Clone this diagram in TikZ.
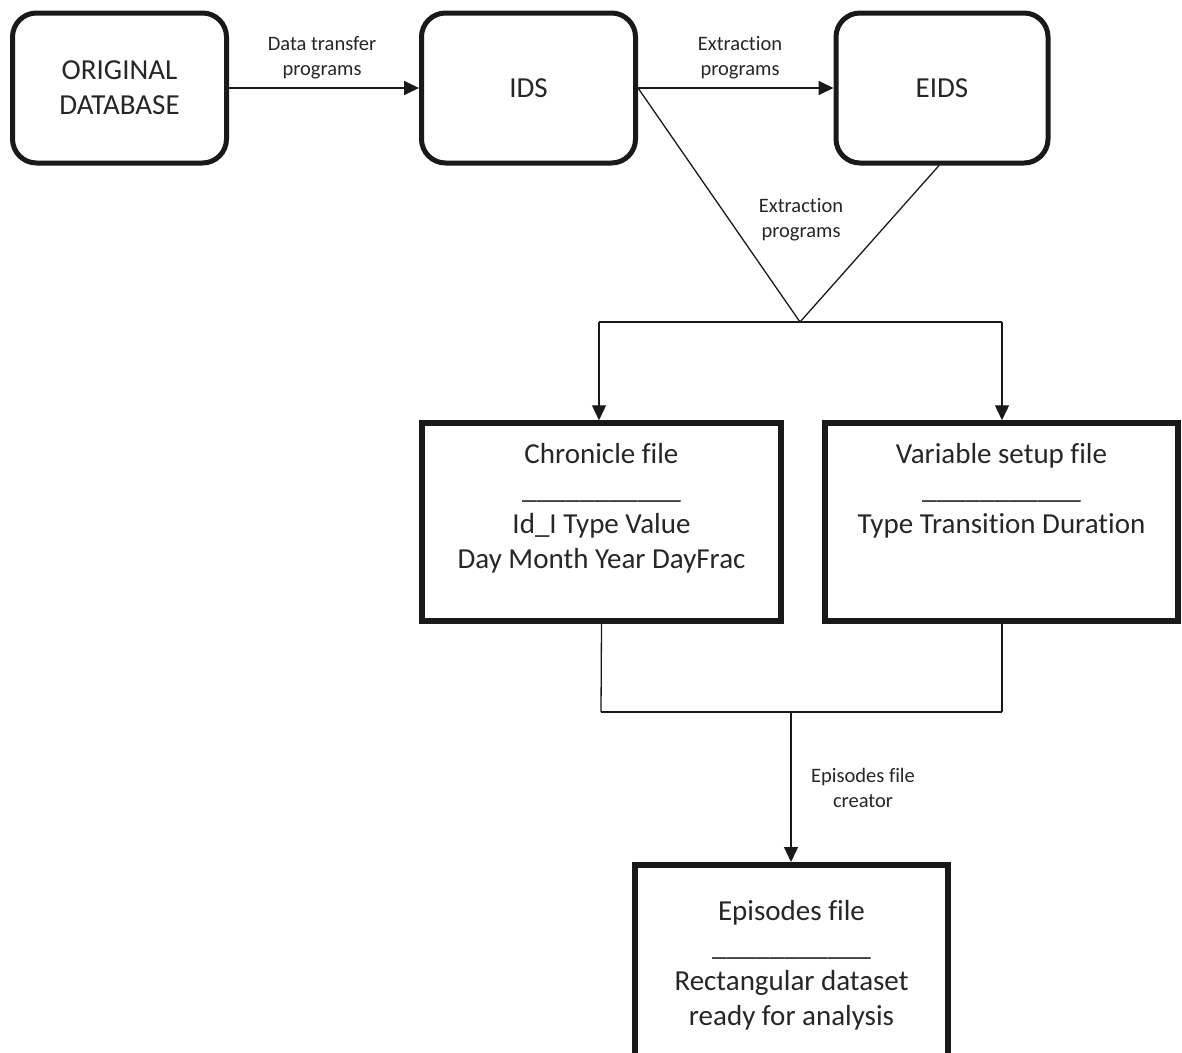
\documentclass[tikz,border=0pt]{standalone}
\usepackage{fontspec}
\setmainfont{Carlito}[Ligatures=NoCommon]
\usetikzlibrary{arrows.meta}
\begin{document}
\begin{tikzpicture}[x=1pt,y=-1pt,
  roundbox/.style={draw=black!90, line width=5pt, rounded corners=24pt, inner sep=0pt},
  filebox/.style={draw=black!90, line width=5.5pt, inner sep=0pt},
  bigtxt/.style={font=\fontsize{29}{35}\selectfont, text=black!85, align=center, inner sep=0pt},
  smalltxt/.style={font=\fontsize{20.5}{25}\selectfont, text=black!85, align=center, inner sep=0pt},
  conn/.style={draw=black!90, line width=1.8pt},
  thin/.style={draw=black!90, line width=1.3pt},
  arr/.style={-{Triangle[length=15pt,width=14pt]}}
]
\useasboundingbox (0,0) rectangle (1182,1052);
\clip (0,0) rectangle (1182,1052);
% boxes
\node[roundbox, minimum width=214pt, minimum height=150pt] (orig) at (119.5,88) {};
\node[roundbox, minimum width=214pt, minimum height=150pt] (ids) at (528.5,88) {};
\node[roundbox, minimum width=212pt, minimum height=150pt] (eids) at (942,88) {};
\node[filebox, minimum width=359pt, minimum height=198pt] (chron) at (601.5,522) {};
\node[filebox, minimum width=353pt, minimum height=198pt] (var) at (1001.5,522) {};
\node[filebox, minimum width=313pt, minimum height=300pt, anchor=north] (epi) at (791.5,862) {};
% box texts
\node[bigtxt] (origt) at (orig.center) {ORIGINAL\\DATABASE};
\node[bigtxt] (idst) at (ids.center) {IDS};
\node[bigtxt] (eidst) at (eids.center) {EIDS};
\node[bigtxt, anchor=north] (chront) at (601.5,443) {Chronicle file\\\_\_\_\_\_\_\_\_\_\_\_\\Id\_I Type Value\\Day Month Year DayFrac};
\node[bigtxt, anchor=north] (vart) at (1001.5,443) {Variable setup file\\\_\_\_\_\_\_\_\_\_\_\_\\Type Transition Duration};
\node[bigtxt, anchor=north] (epit) at (791.5,900) {Episodes file\\\_\_\_\_\_\_\_\_\_\_\_\\Rectangular dataset\\ready for analysis};
% connectors
\draw[conn, arr] (orig.east) -- (ids.west);
\draw[conn, arr] (ids.east) -- (eids.west);
\coordinate (apex) at (800,322);
\coordinate (L) at (599,322);
\coordinate (R) at (1002,322);
\draw[thin] (ids.east) -- (apex);
\draw[thin] ([xshift=-3pt]eids.south) -- (apex);
\draw[thin] (L) -- (R);
\draw[thin, arr] (L) -- (L |- chron.north);
\draw[thin, arr] (R) -- (R |- var.north);
\coordinate (BL) at (601,712);
\coordinate (BR) at (1002,712);
\coordinate (BM) at (791,712);
\draw[thin] (chron.south) -- (BL);
\draw[thin] (BR |- var.south) -- (BR);
\draw[thin] (BL) -- (BR);
\draw[thin, arr] (BM) -- (BM |- epi.north);
% connector labels
\node[smalltxt] (l1) at (322,58) {Data transfer\\programs};
\node[smalltxt] (l2) at (740,58) {Extraction\\programs};
\node[smalltxt] (l3) at (801,220) {Extraction\\programs};
\node[smalltxt] (l4) at (863,788) {Episodes file\\creator};
\end{tikzpicture}
\end{document}
